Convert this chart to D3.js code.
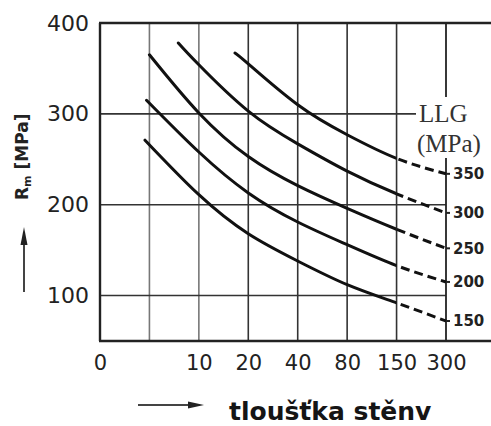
<!DOCTYPE html>
<html>
<head>
<meta charset="utf-8">
<script src="https://cdnjs.cloudflare.com/ajax/libs/d3/7.8.5/d3.min.js"></script>
<style>
  body { margin: 0; background: #fff; }
  svg { display: block; }
</style>
</head>
<body>
<svg width="491" height="426"></svg>
<script>
// Tick labels of the thickness axis (5 has a gridline but no label)
var xTicks = ["0", "5", "10", "20", "40", "80", "150", "300"];
var yTicks = [100, 200, 300, 400];

// LLG grades (MPa), one curve each
var llg = [150, 200, 250, 300, 350];

// Wall thickness (mm) and Rm (MPa)
var t150 = [4.7, 10, 20, 40, 80, 150, 300];
var rm150 = [271, 211, 168, 138, 112, 92, 72];
var t200 = [4.8, 10, 20, 40, 80, 150, 300];
var rm200 = [315, 258, 213, 181, 156, 133, 115];
var t250 = [5, 10, 20, 40, 80, 150, 300];
var rm250 = [365, 301, 253, 221, 196, 173, 152];
var t300 = [7.5, 10, 20, 40, 80, 150, 300];
var rm300 = [378, 354, 303, 267, 237, 212, 191];
var t350 = [16.6, 20, 40, 80, 150, 300];
var rm350 = [367, 355, 310, 277, 251, 234];

// curves are solid up to this thickness, dashed beyond
var solidLimit = 150;

var svg = d3.select("svg");

// (don't call these top/left: window.top is read-only)
var pLeft = 100, pRight = 446, pTop = 23, pBottom = 341;

// gridlines are evenly spaced, thickness is on a (piecewise) log scale between them
var xPoint = d3.scalePoint().domain(xTicks).range([pLeft, pRight]);
var xNum = xTicks.slice(1).map(Number);
var x = d3.scaleLog()
    .domain(xNum)
    .range(xTicks.slice(1).map(function(d) { return xPoint(d); }));

var y = d3.scaleLinear().domain([50, 400]).range([pBottom, pTop]);

var series = [
    { llg: llg[0], t: t150, rm: rm150 },
    { llg: llg[1], t: t200, rm: rm200 },
    { llg: llg[2], t: t250, rm: rm250 },
    { llg: llg[3], t: t300, rm: rm300 },
    { llg: llg[4], t: t350, rm: rm350 }
];

// clip regions for the solid and the dashed part of every curve
var defs = svg.append("defs");
defs.append("clipPath").attr("id", "clip-solid")
    .append("rect")
    .attr("x", 0).attr("y", 0)
    .attr("width", x(solidLimit)).attr("height", 426);
defs.append("clipPath").attr("id", "clip-dash")
    .append("rect")
    .attr("x", x(solidLimit)).attr("y", 0)
    .attr("width", 491 - x(solidLimit)).attr("height", 426);

//////////////////////////////
// Grid
var grid = svg.append("g").attr("class", "grid");

// inner vertical lines
grid.selectAll("line.v")
    .data(xTicks.slice(1, xTicks.length - 1))
    .enter().append("line")
    .attr("class", "v")
    .attr("x1", function(d) { return xPoint(d); })
    .attr("x2", function(d) { return xPoint(d); })
    .attr("y1", pTop)
    .attr("y2", pBottom)
    .attr("stroke", function(d) { return (d == "5" || d == "10") ? "#777" : "#333"; })
    .attr("stroke-width", 1.6);

// horizontal lines (the 300 one stops at the LLG label)
grid.selectAll("line.h")
    .data(yTicks.slice(0, 3))
    .enter().append("line")
    .attr("class", "h")
    .attr("x1", pLeft)
    .attr("x2", function(d) { return d == 300 ? 416 : pRight; })
    .attr("y1", function(d) { return y(d); })
    .attr("y2", function(d) { return y(d); })
    .attr("stroke", "#333")
    .attr("stroke-width", 1.6);

// frame: top and bottom run past the right axis
grid.append("line")
    .attr("x1", pLeft - 1).attr("x2", 491)
    .attr("y1", y(400)).attr("y2", y(400))
    .attr("stroke", "#222").attr("stroke-width", 2.4);
grid.append("line")
    .attr("x1", pLeft - 1).attr("x2", 491)
    .attr("y1", pBottom).attr("y2", pBottom)
    .attr("stroke", "#222").attr("stroke-width", 2.4);
grid.append("line")
    .attr("x1", pLeft).attr("x2", pLeft)
    .attr("y1", pTop).attr("y2", pBottom)
    .attr("stroke", "#222").attr("stroke-width", 2.4);

// right axis is broken where the LLG label sits
grid.append("line")
    .attr("x1", pRight).attr("x2", pRight)
    .attr("y1", pTop).attr("y2", 97)
    .attr("stroke", "#222").attr("stroke-width", 1.8);
grid.append("line")
    .attr("x1", pRight).attr("x2", pRight)
    .attr("y1", 158).attr("y2", pBottom)
    .attr("stroke", "#222").attr("stroke-width", 1.8);

//////////////////////////////
// Axis labels
var yAxis = svg.append("g")
    .attr("transform", "translate(" + pLeft + ",0)")
    .call(d3.axisLeft(y).tickValues(yTicks).tickSize(0).tickPadding(11));
yAxis.select(".domain").remove();
yAxis.selectAll("text")
    .attr("font-family", "DejaVu Sans, sans-serif")
    .attr("font-size", 22)
    .attr("fill", "#222");

var xAxis = svg.append("g")
    .attr("transform", "translate(0," + pBottom + ")")
    .call(d3.axisBottom(xPoint)
        .tickValues(xTicks.filter(function(d) { return d != "5"; }))
        .tickSize(0).tickPadding(14));
xAxis.select(".domain").remove();
xAxis.selectAll("text")
    .attr("font-family", "DejaVu Sans, sans-serif")
    .attr("font-size", 21)
    .attr("fill", "#222");

//////////////////////////////
// Curves
var line = d3.line()
    .x(function(d) { return x(d[0]); })
    .y(function(d) { return y(d[1]); })
    .curve(d3.curveNatural);

var curves = svg.append("g").attr("class", "curves");

series.forEach(function(s) {
    var pts = s.t.map(function(t, i) { return [t, s.rm[i]]; });

    // the same spline drawn twice, clipped at 150 mm
    curves.append("path")
        .attr("d", line(pts))
        .attr("clip-path", "url(#clip-solid)")
        .attr("fill", "none")
        .attr("stroke", "#111")
        .attr("stroke-width", 3)
        .attr("stroke-linecap", "round");

    curves.append("path")
        .attr("d", line(pts))
        .attr("clip-path", "url(#clip-dash)")
        .attr("fill", "none")
        .attr("stroke", "#111")
        .attr("stroke-width", 3)
        .attr("stroke-dasharray", "9,5");

    var end = pts[pts.length - 1];

    // small tick on the right axis and the grade label
    curves.append("line")
        .attr("x1", pRight).attr("x2", pRight + 4)
        .attr("y1", y(end[1])).attr("y2", y(end[1]))
        .attr("stroke", "#222").attr("stroke-width", 2);

    svg.append("text")
        .attr("x", pRight + 7)
        .attr("y", y(end[1]))
        .attr("dy", "0.36em")
        .attr("font-family", "DejaVu Sans, sans-serif")
        .attr("font-weight", "bold")
        .attr("font-size", 15)
        .attr("fill", "#222")
        .text(s.llg);
});

//////////////////////////////
// LLG legend title
svg.append("text")
    .attr("x", 419).attr("y", 113).attr("dy", "0.35em")
    .attr("font-family", "Liberation Serif, Times New Roman, serif")
    .attr("font-size", 25)
    .attr("fill", "#333")
    .text("LLG");
svg.append("text")
    .attr("x", 417).attr("y", 143).attr("dy", "0.35em")
    .attr("font-family", "Liberation Serif, Times New Roman, serif")
    .attr("font-size", 25)
    .attr("fill", "#333")
    .text("(MPa)");

//////////////////////////////
// Axis titles and arrows
var yTitle = svg.append("text")
    .attr("transform", "translate(28,200) rotate(-90)")
    .attr("font-family", "DejaVu Sans, sans-serif")
    .attr("font-weight", "bold")
    .attr("font-size", 17)
    .attr("fill", "#222");
yTitle.append("tspan").text("R");
yTitle.append("tspan").attr("font-size", 11).attr("dy", 3).text("m");
yTitle.append("tspan").attr("dy", -3).text(" [MPa]");

// up arrow
svg.append("line")
    .attr("x1", 24).attr("x2", 24)
    .attr("y1", 292).attr("y2", 240)
    .attr("stroke", "#444").attr("stroke-width", 2);
svg.append("path")
    .attr("d", "M24,227 L20.5,245 L27.5,245 Z")
    .attr("fill", "#222");

// right arrow
svg.append("line")
    .attr("x1", 138).attr("x2", 192)
    .attr("y1", 405).attr("y2", 405)
    .attr("stroke", "#444").attr("stroke-width", 2);
svg.append("path")
    .attr("d", "M204,405 L188,401.5 L188,408.5 Z")
    .attr("fill", "#222");

svg.append("text")
    .attr("x", 229).attr("y", 419.5)
    .attr("font-family", "DejaVu Sans, sans-serif")
    .attr("font-weight", "bold")
    .attr("font-size", 25)
    .attr("fill", "#151515")
    .text("tloušťka stěnv");
</script>
</body>
</html>
